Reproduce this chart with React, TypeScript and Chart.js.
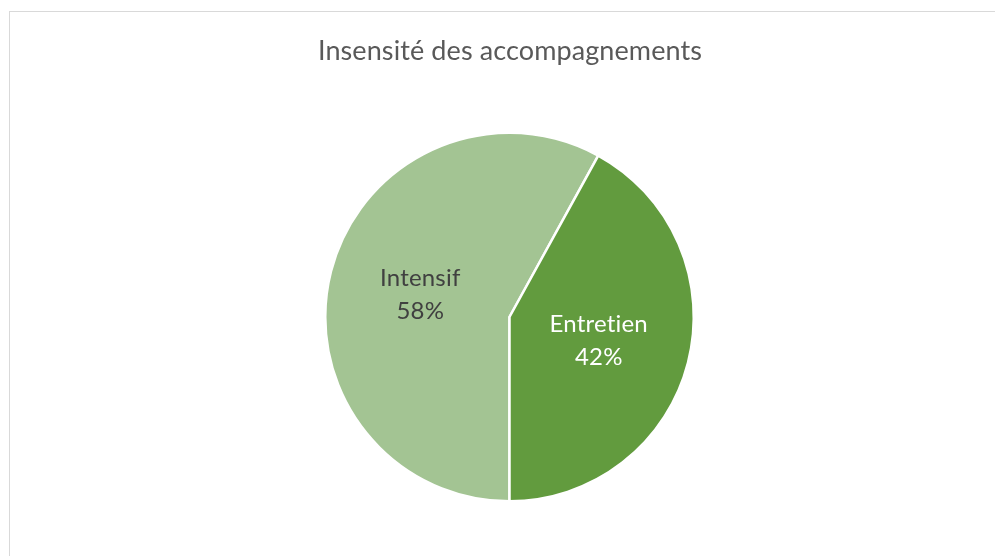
import React, { useEffect, useRef } from "react";
import { Chart, registerables } from "chart.js";

Chart.register(...registerables);

const titleText = "Insensité des accompagnements";
const categories = ["Intensif", "Entretien"];
const values = [58, 42];
const sliceColors = ["#A3C493", "#629B3E"];
const labelColors = ["#404040", "#FFFFFF"];

const W = 995;
const H = 556;

const decorPlugin = {
  id: "decor",
  beforeDraw(chart: any) {
    const ctx = chart.ctx;
    ctx.save();
    ctx.fillStyle = "#FFFFFF";
    ctx.fillRect(0, 0, W, H);
    ctx.strokeStyle = "#D9D9D9";
    ctx.lineWidth = 1;
    ctx.strokeRect(9.5, 11.5, 1100, 700);
    ctx.fillStyle = "#595959";
    ctx.font = "27px Lato, 'Open Sans', sans-serif";
    ctx.textAlign = "center";
    ctx.textBaseline = "alphabetic";
    try { (ctx as any).letterSpacing = "0.1px"; } catch (e) {}
    ctx.fillText(titleText, 510, 60);
    ctx.restore();
  },
  afterDatasetsDraw(chart: any) {
    const ctx = chart.ctx;
    const meta = chart.getDatasetMeta(0);
    const data = chart.data.datasets[0].data as number[];
    const total = data.reduce((a, b) => a + b, 0);
    ctx.save();
    ctx.font = "24px Lato, 'Open Sans', sans-serif";
    ctx.textAlign = "center";
    ctx.textBaseline = "middle";
    try { (ctx as any).letterSpacing = "0.2px"; } catch (e) {}
    meta.data.forEach((arc: any, i: number) => {
      const p = arc.tooltipPosition();
      const pct = Math.round((data[i] / total) * 100) + "%";
      ctx.fillStyle = labelColors[i];
      ctx.fillText(String(chart.data.labels[i]), p.x, p.y - 16);
      ctx.fillText(pct, p.x, p.y + 17);
    });
    ctx.restore();
  },
};

export default function App() {
  const ref = useRef<HTMLCanvasElement | null>(null);
  useEffect(() => {
    document.body.style.margin = "0";
    const chart = new Chart(ref.current as HTMLCanvasElement, {
      type: "pie",
      data: {
        labels: categories,
        datasets: [
          {
            data: values,
            backgroundColor: sliceColors,
            borderColor: "#FFFFFF",
            borderWidth: 2.5,
          },
        ],
      },
      options: {
        animation: false,
        responsive: false,
        rotation: 180,
        layout: { padding: { left: 324, right: 300, top: 131, bottom: 53 } },
        plugins: {
          legend: { display: false },
          title: { display: false },
          tooltip: { enabled: false },
        },
      },
      plugins: [decorPlugin],
    });
    return () => chart.destroy();
  }, []);
  return (
    <div style={{ width: W, height: H }}>
      <canvas ref={ref} width={W} height={H} style={{ width: W, height: H, display: "block" }} />
    </div>
  );
}
